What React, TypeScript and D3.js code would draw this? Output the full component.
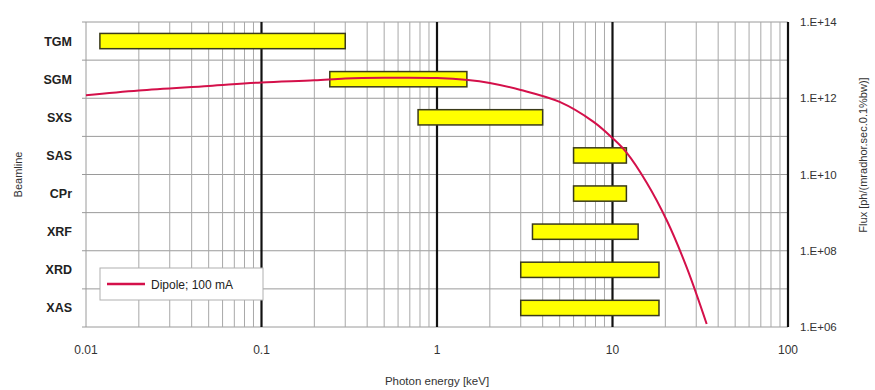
import * as d3 from 'd3';

// beamlines, top to bottom
const beamlines = ['TGM', 'SGM', 'SXS', 'SAS', 'CPr', 'XRF', 'XRD', 'XAS'];
// energy range of each beamline [keV]
const rangeLow = [0.012, 0.245, 0.78, 6, 6, 3.5, 3, 3];
const rangeHigh = [0.3, 1.48, 4, 12, 12, 14, 18.4, 18.4];

// dipole flux curve, 100 mA
const dipoleEnergy = [0.01, 0.02, 0.05, 0.1, 0.2, 0.3, 0.5, 1, 1.5, 2, 3, 5, 7.8, 10, 12, 15.7, 20.4, 26.5, 34.4];
const dipoleFlux = [1.2e12, 1.6e12, 2.1e12, 2.6e12, 2.95e12, 3.3e12, 3.45e12, 3.4e12, 3.0e12, 2.5e12, 1.65e12, 8e11, 2.4e11, 9e10, 3.8e10, 6e9, 6.2e8, 3.6e7, 1.2e6];

const xTicks = [0.01, 0.1, 1, 10, 100];
const xTickLabels = ['0.01', '0.1', '1', '10', '100'];
const fluxTicks = [1e6, 1e8, 1e10, 1e12, 1e14];
const fluxTickLabels = ['1.E+06', '1.E+08', '1.E+10', '1.E+12', '1.E+14'];

const W = 875, H = 390;
const left = 86, right = 788, top = 22, bottom = 327;
const font = '"Liberation Sans", Arial, sans-serif';

export default function App() {
  const x = d3.scaleLog().domain([0.01, 100]).range([left, right]);
  const yFlux = d3.scaleLog().domain([1e6, 1e14]).range([bottom, top]);
  const y = d3.scaleBand().domain(beamlines).range([top, bottom]).paddingInner(0.6).paddingOuter(0.3);

  // minor vertical grid: 2..9 within every decade
  const minor: number[] = [];
  for (let d = -2; d < 2; d++) {
    for (let m = 2; m <= 9; m++) minor.push(m * Math.pow(10, d));
  }
  // horizontal grid at every flux decade
  const fluxDecades = d3.range(6, 15).map(e => Math.pow(10, e));

  const line = d3.line<number>()
    .x((_, i) => x(dipoleEnergy[i]))
    .y(d => yFlux(d))
    .curve(d3.curveCatmullRom.alpha(0.5));

  return (
    <svg width={W} height={H} style={{ position: 'absolute', left: 0, top: 0, background: '#fff' }} fontFamily={font}>
      {/* grid */}
      {fluxDecades.map(f => (
        <line key={'h' + f} x1={left - 4} x2={right} y1={yFlux(f)} y2={yFlux(f)} stroke="#9a9a9a" strokeWidth={1} />
      ))}
      {minor.map(v => (
        <line key={'m' + v} x1={x(v)} x2={x(v)} y1={top} y2={bottom} stroke="#a8a8a8" strokeWidth={1} />
      ))}
      <line x1={left} x2={left} y1={top} y2={bottom} stroke="#9a9a9a" strokeWidth={1} />
      {xTicks.slice(1).map(v => (
        <line key={'M' + v} x1={x(v)} x2={x(v)} y1={top} y2={bottom} stroke="#111" strokeWidth={2.2} />
      ))}

      {/* beamline ranges */}
      {beamlines.map((b, i) => (
        <rect key={b} x={x(rangeLow[i])} y={y(b)} width={x(rangeHigh[i]) - x(rangeLow[i])} height={y.bandwidth()}
          fill="#ffff00" stroke="#3a3a1a" strokeWidth={1.5} />
      ))}

      {/* dipole curve */}
      <path d={line(dipoleFlux) ?? ''} fill="none" stroke="#d4104a" strokeWidth={2} />

      {/* legend */}
      <rect x={100} y={268} width={163} height={32} fill="#fff" stroke="#b0b0b0" strokeWidth={1} />
      <line x1={107} x2={145} y1={284} y2={284} stroke="#d4104a" strokeWidth={2.5} />
      <text x={151} y={288.5} fontSize={12} fill="#222">Dipole; 100 mA</text>

      {/* left category labels */}
      {beamlines.map(b => (
        <text key={'l' + b} x={72} y={y(b)! + y.bandwidth() / 2} dy="0.36em" textAnchor="end"
          fontSize={12.5} fontWeight="bold" fill="#222">{b}</text>
      ))}
      <text transform={`translate(22,${(top + bottom) / 2}) rotate(-90)`} textAnchor="middle" fontSize={11} fill="#333">Beamline</text>

      {/* x axis */}
      {xTicks.map((v, i) => (
        <text key={'x' + v} x={x(v)} y={354} textAnchor="middle" fontSize={12} fill="#333">{xTickLabels[i]}</text>
      ))}
      <text x={(left + right) / 2} y={385} textAnchor="middle" fontSize={11.5} fill="#333">Photon energy [keV]</text>

      {/* right flux axis */}
      {fluxTicks.map((v, i) => (
        <text key={'f' + v} x={800} y={yFlux(v)} dy="0.36em" fontSize={11.5} fill="#333">{fluxTickLabels[i]}</text>
      ))}
      <text transform={`translate(867,155) rotate(-90)`} textAnchor="middle" fontSize={11} fill="#333">Flux [ph/(mradhor.sec.0.1%bw)]</text>
    </svg>
  );
}
